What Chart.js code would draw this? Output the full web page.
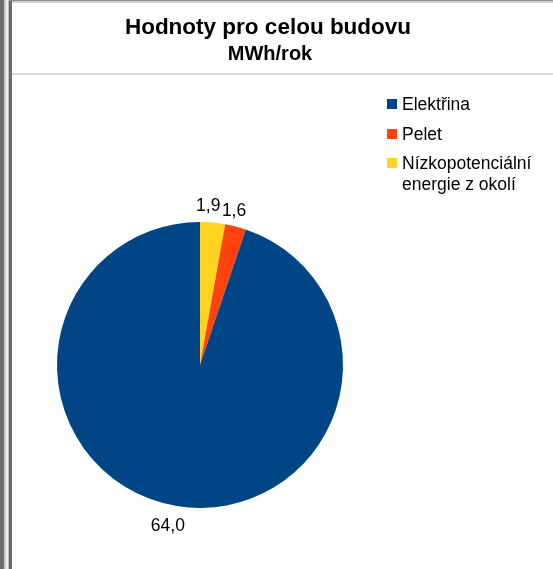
<!DOCTYPE html>
<html>
<head>
<meta charset="utf-8">
<title>Hodnoty pro celou budovu</title>
<script src="https://cdn.jsdelivr.net/npm/chart.js@4.4.1/dist/chart.umd.min.js"></script>
<style>
  body { margin: 0; background: #fff; }
  #pieChart { display: block; }
</style>
</head>
<body>
<canvas id="pieChart" width="553" height="569"></canvas>
<script>
// data (legend order)
var chart_title = 'Hodnoty pro celou budovu';
var chart_subtitle = 'MWh/rok';
var energy_labels = [['Elektřina'], ['Pelet'], ['Nízkopotenciální', 'energie z okolí']];
var energy_values = [64.0, 1.6, 1.9];
var energy_colors = ['#004586', '#ff420e', '#ffd320'];

var font_family = '"Liberation Sans", Arial, sans-serif';

// pie goes clockwise from the top: yellow, orange, then blue
var pie_labels = energy_labels.slice().reverse().map(function(l){ return l.join(' '); });
var pie_values = energy_values.slice().reverse();
var pie_colors = energy_colors.slice().reverse();

function fmt_value(v) {
  return v.toFixed(1).replace('.', ',');
}

var framePlugin = {
  id: 'frame',
  beforeDraw: function(chart) {
    var ctx = chart.ctx;
    var w = chart.width, h = chart.height;
    ctx.save();
    ctx.fillStyle = '#ffffff';
    ctx.fillRect(0, 0, w, h);
    // left bars of the window
    ctx.fillStyle = '#6b6b6b';
    ctx.fillRect(0, 0, 4, h);
    ctx.fillStyle = '#c9c9c9';
    ctx.fillRect(4, 0, 2, h);
    ctx.fillStyle = '#eeeeee';
    ctx.fillRect(6, 0, 2, h);
    ctx.fillStyle = '#bdbdbd';
    ctx.fillRect(8, 0, 1, h);
    ctx.fillStyle = '#6b6b6b';
    ctx.fillRect(9, 0, 3, h);
    // top edge
    ctx.fillStyle = '#8a8a8a';
    ctx.fillRect(9, 0, w - 9, 1);
    ctx.fillStyle = '#cfcfcf';
    ctx.fillRect(12, 1, w - 12, 2);
    // line under the title
    ctx.fillStyle = '#d6d6d6';
    ctx.fillRect(12, 73, w - 12, 2);
    ctx.restore();
  },
  afterDraw: function(chart) {
    var ctx = chart.ctx;
    ctx.save();
    ctx.fillStyle = '#000000';
    ctx.textAlign = 'center';
    ctx.textBaseline = 'alphabetic';
    ctx.font = 'bold 22.5px ' + font_family;
    ctx.fillText(chart_title, 268, 34);
    ctx.font = 'bold 20px ' + font_family;
    ctx.fillText(chart_subtitle, 270, 60);

    // legend
    var legend_y = [110, 140, 169];
    ctx.textAlign = 'left';
    ctx.font = '17.5px ' + font_family;
    for (var i = 0; i < energy_labels.length; i++) {
      ctx.fillStyle = energy_colors[i];
      ctx.fillRect(387, legend_y[i] - 11, 10, 10);
      ctx.fillStyle = '#000000';
      for (var j = 0; j < energy_labels[i].length; j++) {
        ctx.fillText(energy_labels[i][j], 402, legend_y[i] + j * 21);
      }
    }

    // value labels outside the slices
    var meta = chart.getDatasetMeta(0);
    ctx.textAlign = 'center';
    ctx.textBaseline = 'middle';
    ctx.font = '17.5px ' + font_family;
    meta.data.forEach(function(arc, k) {
      var mid = (arc.startAngle + arc.endAngle) / 2;
      var dist = arc.outerRadius + 18;
      var x = arc.x + Math.cos(mid) * dist - 6;
      var y = arc.y + Math.sin(mid) * dist + 2;
      ctx.fillText(fmt_value(pie_values[k]), x, y);
    });
    ctx.restore();
  }
};

var ctx = document.getElementById('pieChart').getContext('2d');
var energy_chart = new Chart(ctx, {
  type: 'pie',
  data: {
    labels: pie_labels,
    datasets: [{
      data: pie_values,
      backgroundColor: pie_colors,
      borderWidth: 0
    }]
  },
  options: {
    responsive: false,
    animation: false,
    layout: {
      padding: { left: 57, right: 210, top: 222, bottom: 61 }
    },
    plugins: {
      legend: { display: false },
      tooltip: { enabled: false }
    }
  },
  plugins: [framePlugin]
});
</script>
</body>
</html>
